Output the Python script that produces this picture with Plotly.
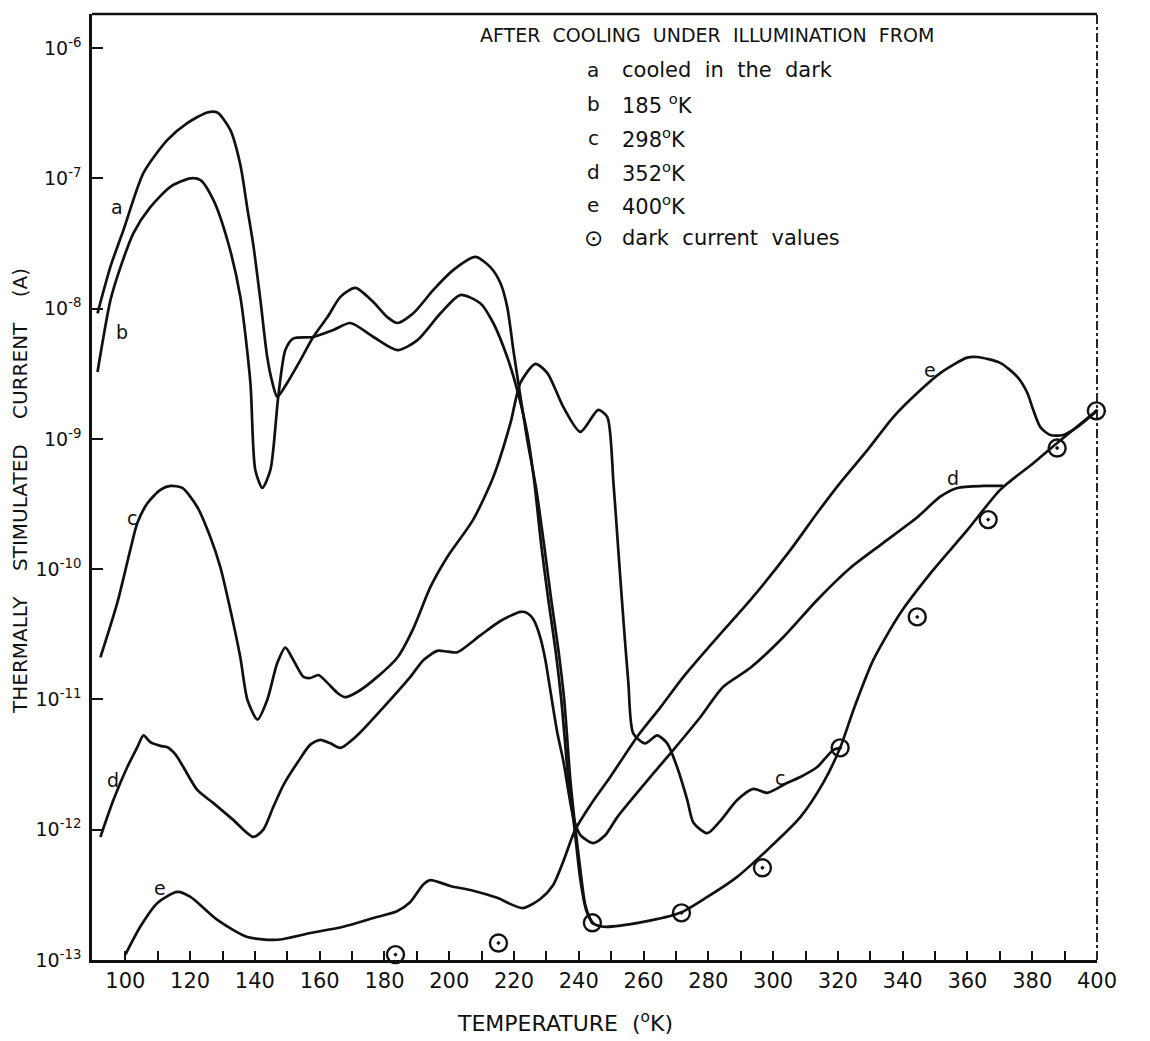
import math
import plotly.graph_objects as go

# ---------------- data ----------------
T_a = [91.4, 95.4, 99.4, 105.6, 113.0, 119.1, 125.3, 128.4, 132.4, 135.5, 137.6, 139.5,
       141.7, 143.8, 145.4, 146.9, 150.0, 154.0, 158.0, 162.4, 166.4, 171.0, 176.6, 180.9,
       184.0, 188.9, 195.1, 201.3, 208.1, 212.7, 215.8, 217.9, 219.8, 222.0, 224.1, 226.9,
       229.4, 231.5, 233.7, 235.5, 237.4, 238.9, 240.5, 242.0, 244.2,
       247.6, 259.9, 271.3, 279.7, 288.9, 298.2, 308.4, 315.5, 320.7, 324.8, 330.9, 339.3,
       349.5, 360.0, 370.1, 380.3, 387.7, 399.8]
I_a = [9.2e-9, 2.1e-8, 4.0e-8, 1.1e-7, 1.97e-7, 2.65e-7, 3.2e-7, 3.2e-7, 2.35e-7, 1.27e-7, 6.0e-8, 3.08e-8,
       1.16e-8, 4.25e-9, 2.7e-9, 2.1e-9, 2.7e-9, 4.0e-9, 6.05e-9, 8.6e-9, 1.23e-8, 1.44e-8, 1.12e-8, 8.6e-9,
       7.75e-9, 9.2e-9, 1.39e-8, 1.98e-8, 2.49e-8, 2.08e-8, 1.57e-8, 1.03e-8, 4.8e-9, 2.1e-9, 9.8e-10, 4.06e-10,
       1.46e-10, 5.8e-11, 2.4e-11, 9.9e-12, 2.4e-12, 1.05e-12, 4.9e-13, 2.65e-13, 1.93e-13,
       1.8e-13, 1.96e-13, 2.3e-13, 3.05e-13, 4.35e-13, 7.0e-13, 1.25e-12, 2.3e-12, 4.25e-12, 8.3e-12, 2.0e-11, 4.6e-11,
       9.9e-11, 2.0e-10, 4.06e-10, 6.5e-10, 9.3e-10, 1.64e-9]

T_b = [91.4, 95.4, 98.5, 102.5, 107.7, 113.9, 120.1, 123.2, 127.2, 131.5, 135.5, 138.6, 140.1,
       142.3, 144.8, 147.2, 149.4, 151.9, 158.0, 164.2, 169.5, 176.6, 184.0, 190.1, 197.3, 203.4,
       209.6, 213.6, 217.9, 221.0, 224.1, 226.3, 228.4, 230.6, 232.8, 234.6, 236.8, 238.6, 240.5,
       242.3, 244.2]
I_b = [3.26e-9, 1.16e-8, 2.08e-8, 3.8e-8, 6.0e-8, 8.6e-8, 1.0e-7, 9.7e-8, 6.8e-8, 3.36e-8, 1.23e-8, 2.7e-9, 5.8e-10,
       4.2e-10, 5.8e-10, 2.1e-9, 4.8e-9, 5.9e-9, 6.05e-9, 6.85e-9, 7.75e-9, 6.05e-9, 4.8e-9, 5.7e-9, 9.2e-9, 1.27e-8,
       1.1e-8, 7.75e-9, 4.25e-9, 2.37e-9, 1.1e-9, 4.6e-10, 1.53e-10, 5.8e-11, 2.4e-11, 9.9e-12, 2.4e-12, 1.05e-12, 4.1e-13,
       2.4e-13, 1.93e-13]

T_c = [92.3, 97.5, 101.5, 103.7, 106.8, 110.8, 113.9, 117.6, 122.2, 126.2, 129.3, 132.4, 135.5, 137.7,
       140.8, 143.8, 146.9, 149.4, 151.9, 155.0, 157.1, 159.6, 162.4, 165.5, 167.9, 171.6, 177.8, 184.0,
       188.9, 194.2, 199.4, 207.4, 213.6, 218.9, 222.0, 226.6, 230.3, 235.2, 240.5, 246.0, 248.8, 250.7,
       252.2, 253.7, 255.3, 256.8, 260.5, 264.2, 267.3, 270.4, 273.5, 275.4, 279.7, 283.7, 288.9, 293.9,
       298.2, 304.4, 308.4, 313.6, 318.6, 320.7]
I_c = [2.1e-11, 5.5e-11, 1.4e-10, 2.26e-10, 3.2e-10, 4.06e-10, 4.35e-10, 4.2e-10, 3.0e-10, 1.77e-10, 1.04e-10, 4.9e-11, 2.1e-11, 9.9e-12,
       7.0e-12, 9.9e-12, 1.9e-11, 2.5e-11, 2.0e-11, 1.49e-11, 1.46e-11, 1.54e-11, 1.34e-11, 1.12e-11, 1.04e-11, 1.14e-11, 1.49e-11, 2.1e-11,
       3.5e-11, 7.3e-11, 1.24e-10, 2.4e-10, 5.1e-10, 1.32e-9, 2.7e-9, 3.76e-9, 3.2e-9, 1.76e-9, 1.13e-9, 1.67e-9, 1.47e-9, 4.6e-10,
       1.4e-10, 4.3e-11, 1.34e-11, 5.5e-12, 4.6e-12, 5.3e-12, 4.6e-12, 3.0e-12, 1.69e-12, 1.13e-12, 9.4e-13, 1.17e-12, 1.69e-12, 2.06e-12,
       1.92e-12, 2.29e-12, 2.54e-12, 3.03e-12, 4.1e-12, 4.25e-12]

T_d = [92.3, 96.3, 100.6, 103.7, 105.6, 107.7, 110.8, 113.0, 115.4, 117.9, 122.2, 127.2, 133.3, 139.5,
       142.6, 145.7, 148.8, 153.1, 157.1, 160.2, 163.3, 166.4, 171.6, 179.7, 188.0, 192.0, 196.3, 199.4,
       202.5, 209.6, 215.8, 222.0, 224.1, 226.0, 228.1, 229.7, 231.2, 233.4, 235.2, 238.3, 240.5, 244.5,
       248.2, 251.9, 262.1, 269.2, 277.5, 284.6, 293.0, 303.1, 313.6, 323.8, 334.0, 344.5, 351.6, 356.9,
       364.9, 371.1]
I_d = [8.8e-13, 1.69e-12, 3.03e-12, 4.3e-12, 5.3e-12, 4.7e-12, 4.4e-12, 4.3e-12, 3.8e-12, 3.03e-12, 2.02e-12, 1.6e-12, 1.19e-12, 8.8e-13,
       1.0e-12, 1.5e-12, 2.2e-12, 3.26e-12, 4.5e-12, 4.9e-12, 4.6e-12, 4.25e-12, 5.3e-12, 8.7e-12, 1.49e-11, 2.0e-11, 2.36e-11, 2.33e-11,
       2.3e-11, 3.1e-11, 4.0e-11, 4.7e-11, 4.6e-11, 4.1e-11, 3.0e-11, 2.0e-11, 1.18e-11, 5.5e-12, 3.4e-12, 1.25e-12, 9.1e-13, 7.9e-13,
       9.1e-13, 1.25e-12, 2.54e-12, 4.1e-12, 7.3e-12, 1.25e-11, 1.75e-11, 3.0e-11, 5.8e-11, 1.02e-10, 1.59e-10, 2.5e-10, 3.6e-10, 4.2e-10,
       4.35e-10, 4.35e-10]

T_e = [100.0, 104.6, 109.9, 116.1, 120.1, 128.4, 137.7, 146.9, 157.1, 167.3, 176.6, 184.0, 188.0, 192.0,
       194.2, 200.3, 207.4, 214.8, 222.6, 228.1, 232.1, 235.2, 238.9, 243.6, 249.7, 258.1, 265.2, 272.3,
       282.8, 293.0, 305.3, 313.6, 320.7, 329.1, 337.1, 344.5, 351.6, 359.9, 363.0, 370.1, 375.4, 378.5,
       380.3, 382.5, 385.6, 389.6, 393.9, 399.5]
I_e = [1.1e-13, 1.8e-13, 2.74e-13, 3.33e-13, 3.05e-13, 2.03e-13, 1.5e-13, 1.43e-13, 1.61e-13, 1.8e-13, 2.1e-13, 2.38e-13, 2.79e-13, 3.8e-13,
       4.1e-13, 3.7e-13, 3.4e-13, 3.0e-13, 2.5e-13, 2.94e-13, 3.77e-13, 5.7e-13, 1.0e-12, 1.55e-12, 2.54e-12, 5.2e-12, 8.7e-12, 1.49e-11,
       3.0e-11, 5.8e-11, 1.4e-10, 2.7e-10, 4.6e-10, 8.2e-10, 1.47e-9, 2.25e-9, 3.2e-9, 4.2e-9, 4.25e-9, 3.83e-9, 2.99e-9, 2.25e-9,
       1.67e-9, 1.23e-9, 1.07e-9, 1.07e-9, 1.23e-9, 1.6e-9]

T_dark = [183.4, 215.2, 244.2, 271.7, 296.7, 320.7, 344.5, 366.4, 387.7, 399.8]
I_dark = [1.1e-13, 1.35e-13, 1.93e-13, 2.3e-13, 5.1e-13, 4.25e-12, 4.3e-11, 2.4e-10, 8.5e-10, 1.64e-9]

x_ticks = list(range(100, 401, 10))
x_ticktext = [str(v) if v % 20 == 0 else "" for v in x_ticks]
y_ticks = [1e-13, 1e-12, 1e-11, 1e-10, 1e-9, 1e-8, 1e-7, 1e-6]
y_ticktext = ["10<sup>-13</sup>", "10<sup>-12</sup>", "10<sup>-11</sup>", "10<sup>-10</sup>",
              "10<sup>-9</sup>", "10<sup>-8</sup>", "10<sup>-7</sup>", "10<sup>-6</sup>"]

# curve label positions (T, current)
curve_labels = [("a", 97.5, 6.0e-8), ("b", 99.1, 6.6e-9), ("c", 102.2, 2.47e-10),
                ("d", 96.3, 2.4e-12), ("e", 110.8, 3.6e-13), ("c", 302.2, 2.5e-12),
                ("e", 348.5, 3.4e-9), ("d", 355.6, 5.0e-10)]

legend_title = "AFTER  COOLING  UNDER  ILLUMINATION  FROM"
legend_keys = ["a", "b", "c", "d", "e", "\u2299"]
legend_texts = ["cooled  in  the  dark", "185 <sup>o</sup>K", "298<sup>o</sup>K",
                "352<sup>o</sup>K", "400<sup>o</sup>K", "dark  current  values"]

# ---------------- figure ----------------
FONT = "DejaVu Sans"
BLACK = "#111111"
fig = go.Figure()

for T, I in [(T_a, I_a), (T_b, I_b), (T_c, I_c), (T_d, I_d), (T_e, I_e)]:
    fig.add_trace(go.Scatter(x=T, y=I, mode="lines",
                             line=dict(color=BLACK, width=2.7, shape="spline", smoothing=0.7),
                             showlegend=False, hoverinfo="skip"))

fig.add_trace(go.Scatter(x=T_dark, y=I_dark, mode="markers",
                         marker=dict(symbol="circle-open-dot", size=17, color=BLACK,
                                     line=dict(width=2.4, color=BLACK)),
                         showlegend=False, cliponaxis=False))

for txt, t, i in curve_labels:
    fig.add_annotation(x=t, y=math.log10(i), text=txt, showarrow=False,
                       font=dict(family=FONT, size=19, color=BLACK))

# plot area on screen: x 92..1097, y 14..960
def px2paper_x(px):
    return (px - 92) / 1005.0

def px2paper_y(py):
    return (960 - py) / 946.0

fig.add_annotation(x=px2paper_x(478), y=px2paper_y(35), xref="paper", yref="paper",
                   text=legend_title, showarrow=False, xanchor="left", yanchor="middle",
                   font=dict(family=FONT, size=19, color=BLACK))
rows_py = [70, 104, 138, 172, 205, 238]
for key, txt, py in zip(legend_keys, legend_texts, rows_py):
    fig.add_annotation(x=px2paper_x(593), y=px2paper_y(py), xref="paper", yref="paper",
                       text=key, showarrow=False, xanchor="center", yanchor="middle",
                       font=dict(family=FONT, size=23 if key == "\u2299" else 20, color=BLACK))
    fig.add_annotation(x=px2paper_x(620), y=px2paper_y(py), xref="paper", yref="paper",
                       text=txt, showarrow=False, xanchor="left", yanchor="middle",
                       font=dict(family=FONT, size=21, color=BLACK))

# axis titles
fig.add_annotation(x=px2paper_x(565), y=px2paper_y(1022), xref="paper", yref="paper",
                   text="TEMPERATURE  (<sup>o</sup>K)", showarrow=False,
                   xanchor="center", yanchor="middle",
                   font=dict(family=FONT, size=22, color=BLACK))
fig.add_annotation(x=px2paper_x(20), y=px2paper_y(491), xref="paper", yref="paper",
                   text="THERMALLY    STIMULATED    CURRENT    (A)", showarrow=False,
                   textangle=-90, xanchor="center", yanchor="middle",
                   font=dict(family=FONT, size=20, color=BLACK))

# frame: top solid, right dash-dot
fig.add_shape(type="line", xref="paper", yref="paper", x0=0, x1=1, y0=1, y1=1,
              line=dict(color=BLACK, width=2.5))
fig.add_shape(type="line", xref="paper", yref="paper", x0=1, x1=1, y0=0, y1=1,
              line=dict(color=BLACK, width=1.8, dash="dashdot"))

fig.update_xaxes(range=[89.7, 400.0], tickmode="array", tickvals=x_ticks, ticktext=x_ticktext,
                 ticks="inside", ticklen=9, tickwidth=2, tickcolor=BLACK,
                 showline=True, linecolor=BLACK, linewidth=2.5, showgrid=False, zeroline=False,
                 tickfont=dict(family=FONT, size=21, color=BLACK))
fig.update_yaxes(type="log", range=[-13, -5.739], tickmode="array", tickvals=y_ticks,
                 ticktext=y_ticktext, ticks="inside", ticklen=11, tickwidth=2, tickcolor=BLACK,
                 showline=True, linecolor=BLACK, linewidth=2.5, showgrid=False, zeroline=False,
                 ticklabelstandoff=4,
                 tickfont=dict(family=FONT, size=19, color=BLACK))

# page body adds an 8 px offset; margins compensate so the plot area sits at x 92..1097, y 14..960
fig.update_layout(width=1150, height=1041, paper_bgcolor="white", plot_bgcolor="white",
                  margin=dict(l=84, r=61, t=6, b=89), showlegend=False,
                  font=dict(family=FONT, color=BLACK))

fig.write_html("out.html")
